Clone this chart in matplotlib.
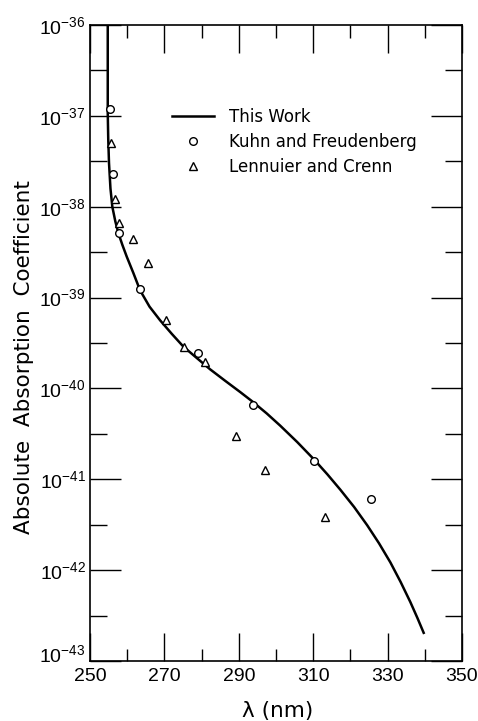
import matplotlib
matplotlib.use("Agg")
import matplotlib.pyplot as plt
from matplotlib.ticker import FixedLocator, FuncFormatter, MultipleLocator
from matplotlib.transforms import ScaledTranslation
from matplotlib.lines import Line2D
import numpy as np

# curve "This Work" (wavelength nm, log10 of coefficient)
work_wl = [254.77, 254.77, 254.9, 255.11, 255.5, 256.0, 256.8, 257.62, 258.7,
           259.88, 261.66, 263.46, 266.0, 268.84, 272.0, 275.11, 278.7, 282.3,
           286.3, 290.38, 293.69, 297.5, 301.14, 305.7, 310.3, 313.8, 317.3,
           321.0, 324.5, 327.7, 330.75, 333.5, 336.1, 338.0, 339.7]
work_log = [-36.00, -36.97, -37.25, -37.52, -37.80, -38.00, -38.16, -38.29, -38.42,
            -38.55, -38.73, -38.92, -39.10, -39.25, -39.40, -39.54, -39.665, -39.79,
            -39.915, -40.04, -40.145, -40.275, -40.41, -40.59, -40.785, -40.945,
            -41.115, -41.305, -41.505, -41.705, -41.915, -42.13, -42.35, -42.525,
            -42.69]

# Kuhn and Freudenberg (circles)
kuhn_wl = [255.38, 256.27, 257.81, 263.46, 278.9, 293.7, 310.3, 325.55]
kuhn_log = [-36.92, -37.64, -38.29, -38.91, -39.61, -40.18, -40.80, -41.22]

# Lennuier and Crenn (triangles)
lenn_wl = [255.57, 256.73, 257.81, 261.5, 265.53, 270.5, 275.3, 280.96, 289.2,
           297.1, 313.1]
lenn_log = [-37.30, -37.92, -38.18, -38.36, -38.62, -39.25, -39.54, -39.71, -40.52,
            -40.90, -41.41]

xticks = [250, 270, 290, 310, 330, 350]
decades = [-43, -42, -41, -40, -39, -38, -37, -36]

tick_font = "Liberation Sans"

fig = plt.figure(figsize=(4.78, 7.21), dpi=100)
ax = fig.add_axes([90 / 478, 1 - 661 / 721, (462 - 90) / 478, (661 - 25) / 721])

ax.semilogy(work_wl, [10.0 ** v for v in work_log], color="black", lw=1.8)
ax.semilogy(kuhn_wl, [10.0 ** v for v in kuhn_log], ls="none", marker="o", ms=5.5,
            mfc="white", mec="black", mew=1.0)
ax.semilogy(lenn_wl, [10.0 ** v for v in lenn_log], ls="none", marker="^", ms=5.5,
            mfc="white", mec="black", mew=1.0)

ax.set_xlim(250, 350)
ax.set_ylim(1e-43, 1e-36)

ax.xaxis.set_major_locator(FixedLocator(xticks))
ax.xaxis.set_minor_locator(MultipleLocator(10))
ax.yaxis.set_major_locator(FixedLocator([10.0 ** d for d in decades]))
ax.yaxis.set_minor_locator(FixedLocator([10.0 ** (d + 0.5) for d in decades[:-1]]))
ax.yaxis.set_minor_formatter(FuncFormatter(lambda v, p: ""))
ax.yaxis.set_major_formatter(FuncFormatter(
    lambda v, p: r"$\mathregular{10^{%d}}$" % int(round(np.log10(v)))))

ax.tick_params(which="both", direction="in", top=True, right=True, width=1.0,
               labelsize=14)
ax.tick_params(axis="x", which="major", length=20, pad=5)
ax.tick_params(axis="x", which="minor", length=9)
ax.tick_params(axis="y", which="major", length=22, pad=3)
ax.tick_params(axis="y", which="minor", length=12)
for lab in ax.get_xticklabels() + ax.get_yticklabels():
    lab.set_family(tick_font)

# lift the lowest y label clear of the x labels, as in the original
low = ax.get_yticklabels()[0]
low.set_transform(low.get_transform() + ScaledTranslation(0, 8 / 100, fig.dpi_scale_trans))

for s in ax.spines.values():
    s.set_linewidth(1.2)

ax.set_xlabel("λ (nm)", fontsize=15.5)
ax.xaxis.set_label_coords(0.505, -0.063)
ax.set_ylabel("Absolute  Absorption  Coefficient", fontsize=15.5)
ax.yaxis.set_label_coords(-0.15, 0.478)

handles = [Line2D([], [], color="black", lw=1.8),
           Line2D([], [], ls="none", marker="o", ms=5.5, mfc="white", mec="black"),
           Line2D([], [], ls="none", marker="^", ms=5.5, mfc="white", mec="black")]
ax.legend(handles, ["This Work", "Kuhn and Freudenberg", "Lennuier and Crenn"],
          loc="upper left", bbox_to_anchor=(0.22, 0.87), frameon=False,
          fontsize=12, handlelength=2.5, handletextpad=0.95, labelspacing=0.42,
          borderpad=0, borderaxespad=0)

fig.savefig("out.png", dpi=100)
